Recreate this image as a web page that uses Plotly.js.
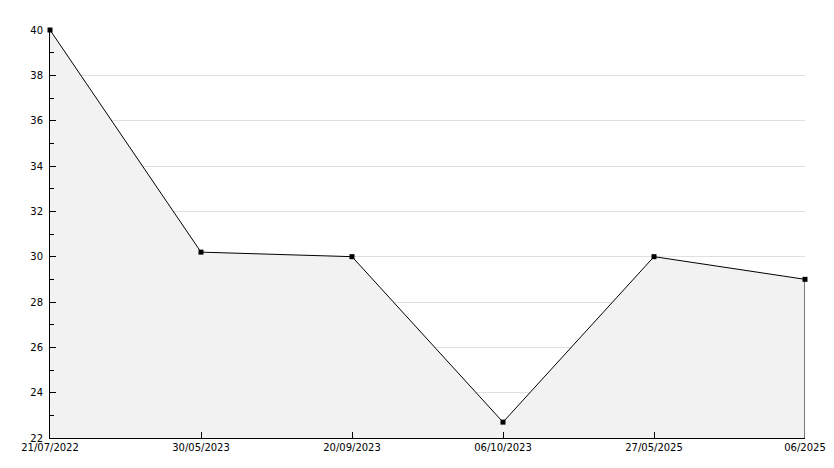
<!DOCTYPE html>
<html>
<head>
<meta charset="utf-8">
<script src="https://cdn.plot.ly/plotly-3.0.1.min.js"></script>
<style>html,body{margin:0;padding:0;background:#fff;}#chart{width:834px;height:468px;}</style>
</head>
<body>
<div id="chart"></div>
<script>
const dates = ["21/07/2022", "30/05/2023", "20/09/2023", "06/10/2023", "27/05/2025", "06/2025"];
const values = [40, 30.2, 30, 22.7, 30, 29];
const yMin = 22, yMax = 40;

const trace = {
  x: dates,
  y: values,
  type: 'scatter',
  mode: 'lines+markers',
  fill: 'tozeroy',
  fillcolor: '#f2f2f2',
  line: {color: '#000000', width: 1},
  marker: {color: '#000000', size: 5, symbol: 'square'},
  cliponaxis: false,
  hoverinfo: 'x+y'
};

const lastIdx = dates.length - 1;
const edge = {
  x: [dates[lastIdx], dates[lastIdx]],
  y: [yMin, values[lastIdx]],
  type: 'scatter',
  mode: 'lines',
  line: {color: '#000000', width: 1},
  cliponaxis: false,
  hoverinfo: 'skip'
};

const layout = {
  width: 834,
  height: 468,
  margin: {l: 50, r: 29, t: 30, b: 30},
  paper_bgcolor: '#ffffff',
  plot_bgcolor: '#ffffff',
  showlegend: false,
  font: {family: 'DejaVu Sans, sans-serif', size: 10, color: '#000000'},
  xaxis: {
    type: 'category',
    range: [0, 5],
    showgrid: false,
    zeroline: false,
    showline: true,
    linecolor: '#000000',
    linewidth: 1,
    ticks: 'inside',
    ticklen: 6,
    tickcolor: '#000000',
    tickfont: {family: 'DejaVu Sans, sans-serif', size: 10, color: '#000000'}
  },
  yaxis: {
    range: [yMin, yMax],
    dtick: 2,
    tick0: 22,
    showgrid: true,
    gridcolor: '#e0e0e0',
    gridwidth: 1,
    zeroline: false,
    showline: true,
    linecolor: '#000000',
    linewidth: 1,
    ticks: 'inside',
    ticklen: 6,
    tickcolor: '#000000',
    ticklabelstandoff: 4,
    minor: {dtick: 1, tick0: 22, ticks: 'inside', ticklen: 4, tickcolor: '#000000', showgrid: false},
    tickfont: {family: 'DejaVu Sans, sans-serif', size: 10, color: '#000000'}
  }
};

Plotly.newPlot('chart', [trace, edge], layout, {displayModeBar: false, staticPlot: true});
</script>
</body>
</html>
